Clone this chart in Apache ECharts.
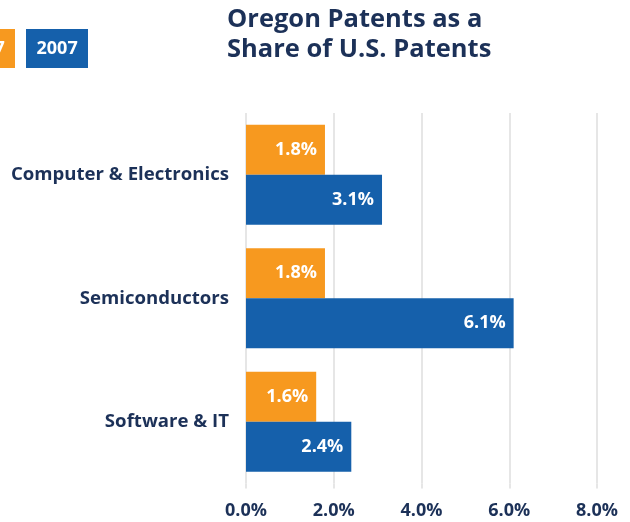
<!DOCTYPE html>
<html>
<head>
<meta charset="utf-8">
<script src="https://cdn.jsdelivr.net/npm/echarts@6/dist/echarts.min.js"></script>
<style>
  html, body { margin: 0; padding: 0; background: #fff; }
  #chart { width: 630px; height: 522px; }
</style>
</head>
<body>
<div id="chart"></div>
<script>
// data
const categories = ['Computer & Electronics', 'Semiconductors', 'Software & IT']
const years = ['2017', '2007']
const share2017 = [1.8, 1.8, 1.6]
const share2007 = [3.1, 6.1, 2.4]
const xTicks = [0, 2, 4, 6, 8]

const navy = '#1c3158'
const orange = '#f7991f'
const blue = '#1560ab'
const font = '"Open Sans", sans-serif'

const myChart = echarts.init(document.getElementById('chart'))

const barLabel = {
  show: true,
  position: 'insideRight',
  distance: 8,
  color: '#fff',
  fontFamily: font,
  fontWeight: 'bold',
  fontSize: 18,
  formatter: p => p.value.toFixed(1) + '%'
}

const option = {
  animation: false,
  title: {
    text: 'Oregon Patents as a\nShare of U.S. Patents',
    left: 227,
    top: 5,
    padding: 0,
    textStyle: {
      color: navy,
      fontFamily: font,
      fontWeight: 'bold',
      fontSize: 25.5,
      lineHeight: 30
    }
  },
  legend: {
    left: -52,
    top: 29,
    padding: 0,
    itemWidth: 0,
    itemHeight: 0,
    itemGap: 6,
    icon: 'none',
    selectedMode: false,
    data: [
      { name: years[0], textStyle: { backgroundColor: orange } },
      { name: years[1], textStyle: { backgroundColor: blue } }
    ],
    textStyle: {
      color: '#fff',
      fontFamily: font,
      fontWeight: 'bold',
      fontSize: 18,
      lineHeight: 19,
      width: 41,
      align: 'center',
      padding: [10, 10.5, 10, 10.5]
    }
  },
  grid: {
    left: 246,
    right: 33,
    top: 113,
    bottom: 38.5,
    containLabel: false
  },
  xAxis: {
    type: 'value',
    min: xTicks[0],
    max: xTicks[xTicks.length - 1],
    interval: 2,
    axisLine: { show: false },
    axisTick: {
      show: true,
      length: 5,
      lineStyle: { color: '#e6e6e6', width: 2 }
    },
    splitLine: {
      show: true,
      lineStyle: { color: '#e6e6e6', width: 2 }
    },
    axisLabel: {
      margin: 18,
      color: navy,
      fontFamily: font,
      fontWeight: 'bold',
      fontSize: 18,
      formatter: v => v.toFixed(1) + '%'
    }
  },
  yAxis: {
    type: 'category',
    inverse: true,
    data: categories,
    axisLine: { show: false },
    axisTick: { show: false },
    axisLabel: {
      margin: 17,
      color: navy,
      fontFamily: font,
      fontWeight: 'bold',
      fontSize: 18.6
    }
  },
  series: [
    {
      name: years[0],
      type: 'bar',
      color: orange,
      barWidth: 50,
      barGap: 0,
      label: barLabel,
      data: share2017
    },
    {
      name: years[1],
      type: 'bar',
      color: blue,
      barWidth: 50,
      barGap: 0,
      label: barLabel,
      data: share2007
    }
  ]
}
myChart.setOption(option)
</script>
</body>
</html>
